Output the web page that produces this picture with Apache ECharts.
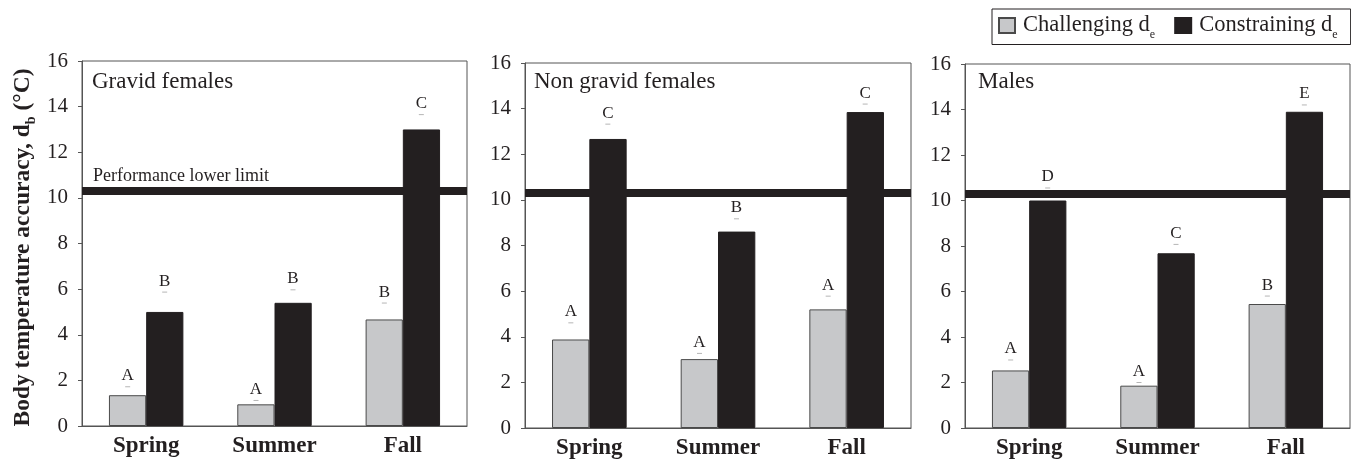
<!DOCTYPE html>
<html>
<head>
<meta charset="utf-8">
<script src="https://cdn.jsdelivr.net/npm/echarts@6/dist/echarts.min.js"></script>
<style>
html,body{margin:0;padding:0;background:#fff;}
#chart{width:1351px;height:461px;}
</style>
</head>
<body>
<div id="chart"></div>
<script>
// ---- data ----
const categories = ['Spring', 'Summer', 'Fall'];
const panelTitles = ['Gravid females', 'Non gravid females', 'Males'];
const seriesNames = ['Challenging', 'Constraining'];
const yTickMin = 0, yTickMax = 16, yTickStep = 2;
const performanceLimit = 10.3;
const performanceLabel = 'Performance lower limit';

// Gravid females
const gravidChallenging = [1.35, 0.95, 4.67];
const gravidConstraining = [5.0, 5.4, 13.0];
const gravidChallengingErr = [1.72, 1.12, 5.39];
const gravidConstrainingErr = [5.87, 5.97, 13.65];
const gravidChallengingLetters = ['A', 'A', 'B'];
const gravidConstrainingLetters = ['B', 'B', 'C'];

// Non gravid females
const nonGravidChallenging = [3.88, 3.02, 5.2];
const nonGravidConstraining = [12.67, 8.61, 13.85];
const nonGravidChallengingErr = [4.61, 3.27, 5.78];
const nonGravidConstrainingErr = [13.32, 9.17, 14.2];
const nonGravidChallengingLetters = ['A', 'A', 'A'];
const nonGravidConstrainingLetters = ['C', 'B', 'C'];

// Males
const malesChallenging = [2.53, 1.86, 5.45];
const malesConstraining = [10.0, 7.68, 13.9];
const malesChallengingErr = [2.99, 2.0, 5.8];
const malesConstrainingErr = [10.55, 8.07, 14.2];
const malesChallengingLetters = ['A', 'A', 'B'];
const malesConstrainingLetters = ['D', 'C', 'E'];

const panels = [
  {title: panelTitles[0], ch: gravidChallenging, co: gravidConstraining, chErr: gravidChallengingErr, coErr: gravidConstrainingErr, chL: gravidChallengingLetters, coL: gravidConstrainingLetters},
  {title: panelTitles[1], ch: nonGravidChallenging, co: nonGravidConstraining, chErr: nonGravidChallengingErr, coErr: nonGravidConstrainingErr, chL: nonGravidChallengingLetters, coL: nonGravidConstrainingLetters},
  {title: panelTitles[2], ch: malesChallenging, co: malesConstraining, chErr: malesChallengingErr, coErr: malesConstrainingErr, chL: malesChallengingLetters, coL: malesConstrainingLetters}
];

// ---- layout / style ----
const FONT = "'Liberation Serif', 'Times New Roman', serif";
const INK = '#231f20';
const LIGHT = '#c7c8ca';
const FRAME = '#555555';
const grids = [
  {left: 82, top: 61, width: 385, height: 365},
  {left: 525, top: 63, width: 386, height: 365},
  {left: 965, top: 64, width: 385, height: 364}
];
const titlePos = [{left: 92, top: 70}, {left: 534, top: 70}, {left: 978, top: 70}];
const halfBar = 18.5;

const chart = echarts.init(document.getElementById('chart'));

const option = {
  animation: false,
  backgroundColor: '#fff',
  textStyle: {fontFamily: FONT, color: INK},
  legend: {
    data: seriesNames,
    left: 992, top: 9,
    padding: [5, 13, 4, 6],
    itemGap: 19,
    itemWidth: 16, itemHeight: 15,
    icon: 'rect',
    borderColor: INK, borderWidth: 1,
    formatter: n => '{t|' + n + ' d}{s|e}',
    textStyle: {
      fontFamily: FONT, color: INK,
      rich: {
        t: {fontFamily: FONT, fontSize: 22.5, lineHeight: 30, color: INK, padding: [0, 0, 0, 3]},
        s: {fontFamily: FONT, fontSize: 12, lineHeight: 12, verticalAlign: 'bottom', color: INK}
      }
    }
  },
  title: panels.map((p, i) => ({
    text: p.title,
    left: titlePos[i].left, top: titlePos[i].top, padding: 0,
    textStyle: {fontFamily: FONT, fontSize: 23, fontWeight: 'normal', color: INK}
  })),
  grid: grids.map(g => Object.assign({show: true, borderColor: FRAME, borderWidth: 1, backgroundColor: 'transparent', containLabel: false}, g)),
  xAxis: panels.map((p, i) => ({
    type: 'category', gridIndex: i, data: categories,
    axisLine: {show: true, lineStyle: {color: FRAME, width: 1}},
    axisTick: {show: false},
    axisLabel: {fontFamily: FONT, fontSize: 23, fontWeight: 'bold', color: INK, margin: 9}
  })),
  yAxis: panels.map((p, i) => ({
    type: 'value', gridIndex: i, min: yTickMin, max: yTickMax, interval: yTickStep,
    axisLine: {show: true, lineStyle: {color: FRAME, width: 1}},
    axisTick: {show: true, inside: false, length: 4, lineStyle: {color: FRAME}},
    splitLine: {show: false},
    axisLabel: {fontFamily: FONT, fontSize: 21, color: INK, margin: 14},
    name: i === 0 ? '{t|Body temperature accuracy, d}{s|b}{e| (°C)}' : '',
    nameLocation: 'middle',
    nameGap: 44,
    nameTextStyle: {
      fontFamily: FONT, fontWeight: 'bold', color: INK,
      rich: {
        t: {fontFamily: FONT, fontSize: 23.5, fontWeight: 'bold', lineHeight: 30, color: INK},
        e: {fontFamily: FONT, fontSize: 23.5, fontWeight: 'bold', lineHeight: 30, color: INK, padding: [0, 8, 0, 0]},
        s: {fontFamily: FONT, fontSize: 14, fontWeight: 'bold', lineHeight: 14, verticalAlign: 'bottom', color: INK}
      }
    }
  })),
  series: []
};

panels.forEach((p, i) => {
  option.series.push({
    name: seriesNames[0], type: 'bar', xAxisIndex: i, yAxisIndex: i,
    data: p.ch, barGap: '0%', barCategoryGap: '42%',
    itemStyle: {color: LIGHT, borderColor: '#4a4a4a', borderWidth: 1}
  });
  option.series.push({
    name: seriesNames[1], type: 'bar', xAxisIndex: i, yAxisIndex: i,
    data: p.co, barGap: '0%', barCategoryGap: '42%',
    itemStyle: {color: INK, borderColor: INK, borderWidth: 1},
    markLine: {
      silent: true, symbol: 'none',
      lineStyle: {color: INK, width: 8, type: 'solid'},
      label: {
        show: i === 0, position: 'insideStartTop', formatter: performanceLabel,
        fontFamily: FONT, fontSize: 18, color: INK, distance: [11, 6]
      },
      data: [{yAxis: performanceLimit}]
    }
  });
  [[p.chErr, p.chL, -halfBar], [p.coErr, p.coL, halfBar]].forEach(([err, letters, off]) => {
    option.series.push({
      type: 'scatter', xAxisIndex: i, yAxisIndex: i,
      data: err,
      symbol: 'rect', symbolSize: [5, 1], symbolOffset: [off, 0],
      itemStyle: {color: '#b5b5b5', opacity: 1},
      silent: true, z: 5,
      label: {
        show: true, position: 'top', distance: 2,
        formatter: prm => letters[prm.dataIndex],
        fontFamily: FONT, fontSize: 17, color: INK
      }
    });
  });
});

chart.setOption(option);
</script>
</body>
</html>
